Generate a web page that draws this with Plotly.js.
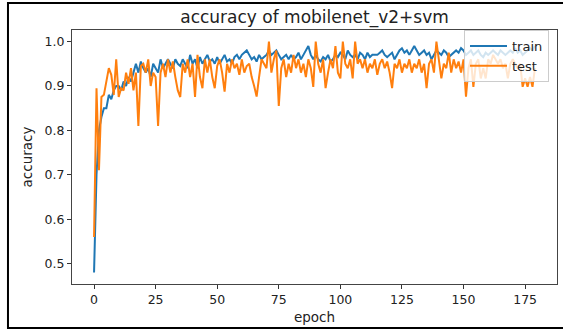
<!DOCTYPE html>
<html>
<head>
<meta charset="utf-8">
<script src="https://cdn.plot.ly/plotly-3.0.1.min.js"></script>
<style>html,body{margin:0;padding:0;background:#fff;}#chart{width:563px;height:332px;}</style>
</head>
<body>
<div id="chart"></div>
<script>
// epochs 0..179
const epochs = Array.from({length: 180}, (_, i) => i);

const trainAcc = [
  0.48, 0.70, 0.80, 0.83, 0.85, 0.85, 0.88, 0.87, 0.89, 0.90,
  0.90, 0.89, 0.91, 0.90, 0.92, 0.91, 0.93, 0.95, 0.93, 0.955,
  0.94, 0.93, 0.94, 0.92, 0.95, 0.94, 0.93, 0.96, 0.94, 0.95,
  0.96, 0.95, 0.94, 0.96, 0.95, 0.945, 0.96, 0.95, 0.94, 0.97,
  0.95, 0.96, 0.94, 0.965, 0.95, 0.96, 0.97, 0.955, 0.96, 0.95,
  0.965, 0.95, 0.96, 0.97, 0.955, 0.96, 0.95, 0.965, 0.97, 0.96,
  0.97, 0.975, 0.98, 0.97, 0.96, 0.965, 0.955, 0.97, 0.96, 0.965,
  0.97, 0.98, 0.97, 0.975, 0.98, 0.97, 0.96, 0.965, 0.97, 0.96,
  0.97, 0.96, 0.965, 0.975, 0.96, 0.97, 0.98, 0.99, 0.97, 0.96,
  0.97, 0.96, 0.955, 0.965, 0.96, 0.97, 0.955, 0.96, 0.97, 0.965,
  0.975, 0.97, 0.96, 0.98, 0.97, 0.965, 0.97, 0.96, 0.975, 0.97,
  0.96, 0.975, 0.965, 0.97, 0.97, 0.97, 0.975, 0.98, 0.97, 0.965,
  0.97, 0.975, 0.96, 0.97, 0.98, 0.985, 0.975, 0.98, 0.97, 0.98,
  0.99, 0.98, 0.97, 0.975, 0.98, 0.97, 0.975, 0.96, 0.97, 0.98,
  0.975, 0.97, 0.98, 0.975, 0.965, 0.97, 0.975, 0.98, 0.975, 0.985,
  0.98, 0.97, 0.975, 0.98, 0.97, 0.975, 0.98, 0.97, 0.965, 0.975,
  0.97, 0.975, 0.98, 0.975, 0.97, 0.98, 0.975, 0.97, 0.975, 0.98,
  0.975, 0.985, 0.975, 0.98, 0.97, 0.975, 0.98, 0.985, 0.98, 0.99
];

const testAcc = [
  0.56, 0.895, 0.71, 0.875, 0.88, 0.91, 0.94, 0.925, 0.88, 0.96,
  0.875, 0.895, 0.89, 0.93, 0.905, 0.94, 0.89, 0.93, 0.81, 0.945,
  0.95, 0.93, 0.96, 0.90, 0.93, 0.92, 0.81, 0.93, 0.95, 0.92,
  0.96, 0.93, 0.955, 0.92, 0.89, 0.875, 0.95, 0.93, 0.96, 0.92,
  0.95, 0.875, 0.97, 0.92, 0.895, 0.96, 0.93, 0.96, 0.92, 0.895,
  0.945, 0.96, 0.93, 0.887, 0.95, 0.93, 0.96, 0.94, 0.95, 0.925,
  0.96, 0.93, 0.945, 0.95, 0.92, 0.90, 0.876, 0.92, 0.96, 0.95,
  0.94, 1.0, 0.93, 0.96, 0.98, 0.855, 0.94, 0.96, 0.92, 0.95,
  0.93, 0.97, 0.94, 0.96, 0.93, 0.95, 0.92, 0.96, 0.94, 0.898,
  1.0, 0.95, 0.93, 0.96, 0.895, 0.93, 0.96, 0.94, 0.99, 0.93,
  0.917, 1.0, 0.95, 0.94, 0.96, 0.917, 1.0, 0.95, 0.96, 0.94,
  0.96, 0.93, 0.95, 0.94, 0.96, 0.925, 0.95, 0.96, 0.94, 0.955,
  0.93, 0.895, 0.95, 0.94, 0.96, 0.93, 0.95, 0.94, 0.96, 0.93,
  0.95, 0.94, 0.96, 0.93, 0.95, 0.895, 0.95, 0.96, 0.93, 1.0,
  0.96, 0.917, 0.95, 0.94, 0.975, 0.93, 0.96, 0.94, 0.955, 0.93,
  0.96, 0.876, 0.94, 0.96, 0.898, 0.95, 0.96, 0.917, 0.94, 0.917,
  0.96, 0.95, 0.97, 0.96, 0.95, 0.96, 0.94, 0.95, 0.917, 0.95,
  0.96, 0.95, 0.94, 0.95, 0.898, 0.917, 0.898, 0.92, 0.898, 0.94
];

const seriesNames = ["train", "test"];
const xTicks = [0, 25, 50, 75, 100, 125, 150, 175];
const yTicks = [0.5, 0.6, 0.7, 0.8, 0.9, 1.0];

const font = "DejaVu Sans, sans-serif";

const data = [
  {x: epochs, y: trainAcc, name: seriesNames[0], type: "scatter", mode: "lines",
   line: {color: "#1f77b4", width: 2}},
  {x: epochs, y: testAcc, name: seriesNames[1], type: "scatter", mode: "lines",
   line: {color: "#ff7f0e", width: 2}}
];

const layout = {
  width: 563, height: 332,
  margin: {l: 72, r: 6, t: 30, b: 48, pad: 0},
  paper_bgcolor: "#fff", plot_bgcolor: "#fff",
  font: {family: font, color: "#222"},
  title: {text: "accuracy of mobilenet_v2+svm", font: {family: font, size: 17, color: "#222"},
          x: 0.5, xref: "paper", y: 1 - 17/332, yref: "container", yanchor: "middle"},
  xaxis: {
    range: [-8.95, 187.95], tickvals: xTicks, ticks: "outside", ticklen: 4, tickcolor: "#333",
    showline: true, mirror: true, linecolor: "#444", linewidth: 1, showgrid: false, zeroline: false,
    tickfont: {family: font, size: 12.5, color: "#222"},
    title: {text: "epoch", font: {family: font, size: 13.5, color: "#222"}, standoff: 6}
  },
  yaxis: {
    range: [0.454, 1.026], tickvals: yTicks, tickformat: ".1f", ticks: "outside", ticklen: 4, tickcolor: "#333",
    showline: true, mirror: true, linecolor: "#444", linewidth: 1, showgrid: false, zeroline: false,
    tickfont: {family: font, size: 12.5, color: "#222"},
    title: {text: "accuracy", font: {family: font, size: 13.5, color: "#222"}, standoff: 8}
  },
  legend: {
    x: 0.9835, xanchor: "right", y: 1.0, yanchor: "top",
    itemwidth: 37,
    bgcolor: "rgba(255,255,255,0.8)", bordercolor: "#ccc", borderwidth: 1,
    font: {family: font, size: 13, color: "#222"}, tracegroupgap: 0
  },
  shapes: [
    {type: "rect", xref: "paper", yref: "paper", x0: -0.132, x1: 1.03, y0: -0.1732, y1: 1.1063,
     line: {color: "#000", width: 2}, fillcolor: "rgba(0,0,0,0)", layer: "above"}
  ],
  showlegend: true
};

Plotly.newPlot("chart", data, layout, {displayModeBar: false, staticPlot: true});
</script>
</body>
</html>
